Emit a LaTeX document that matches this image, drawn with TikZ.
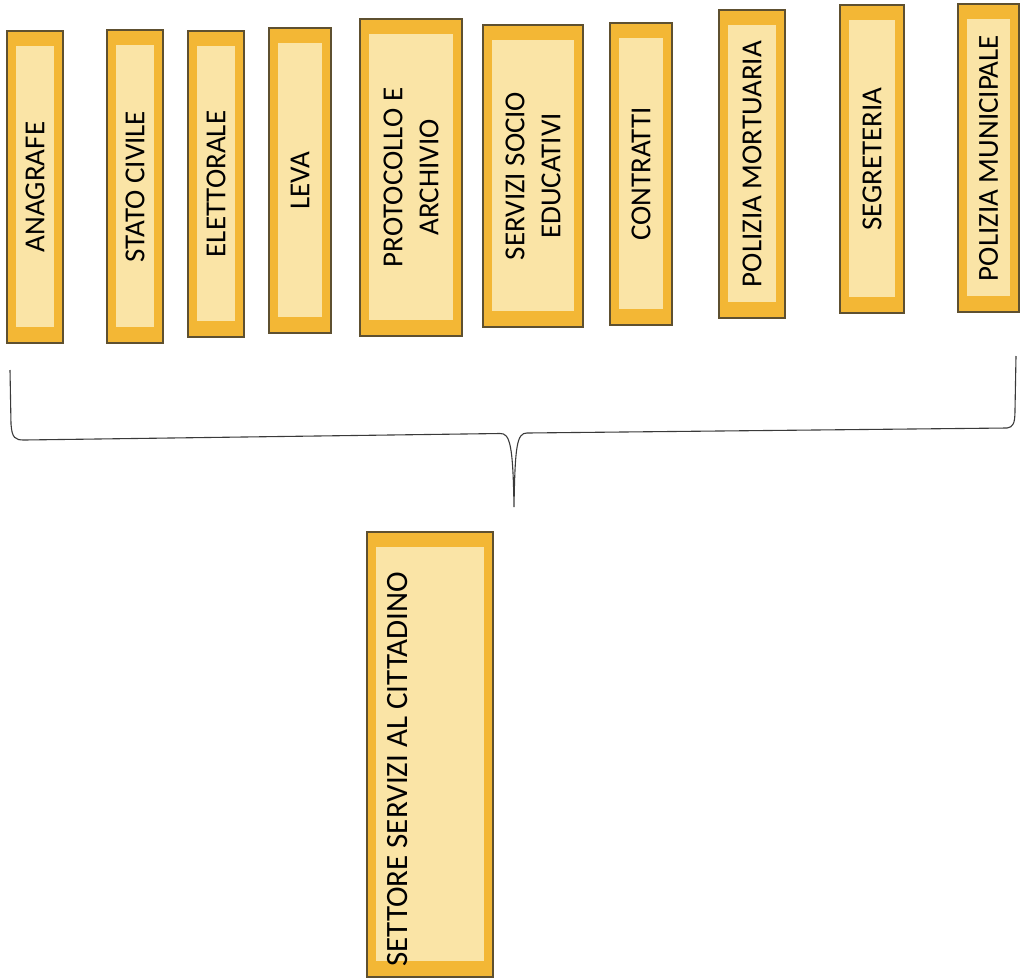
\documentclass[tikz,border=0pt]{standalone}
\usepackage{fontspec}
\setmainfont{Carlito}
\definecolor{outerfill}{HTML}{F3B735}
\definecolor{innerfill}{HTML}{FAE4A6}
\definecolor{boxline}{HTML}{5E5030}
\definecolor{braceline}{HTML}{3A3A3A}
\tikzset{
  outerbox/.style={draw=boxline, line width=1.1pt, fill=outerfill, inner sep=0pt,
    path picture={\fill[innerfill] ([xshift=9pt,yshift=-15pt]path picture bounding box.north west)
      rectangle ([xshift=-9pt,yshift=16pt]path picture bounding box.south east);}},
  boxlabel/.style={rotate=90, inner sep=0pt, align=center, font=\fontsize{29}{36}\selectfont, text=black},
  bracestyle/.style={draw=braceline, line width=1.1pt}
}
\newcommand\dbox[7]{%
  \node[outerbox, minimum width={(#4-#2)*1pt}, minimum height={(#5-#3)*1pt}]
    (#1) at ({(#2+#4)/2},{(#3+#5)/2}) {};
  \node[boxlabel] (#7) at (#1.center) {#6};}
\begin{document}
\begin{tikzpicture}[x=1pt,y=-1pt]
\useasboundingbox (0,0) rectangle (1020,978);
\dbox{b1}{7}{31}{63}{343}{ANAGRAFE}{t1}
\dbox{b2}{107}{30}{163}{343}{STATO CIVILE}{t2}
\dbox{b3}{188}{31}{244}{337}{ELETTORALE}{t3}
\dbox{b4}{269}{28}{331}{333}{LEVA}{t4}
\dbox{b5}{360}{19}{462}{336}{PROTOCOLLO E\\ARCHIVIO}{t5}
\dbox{b6}{483}{25}{583}{327}{SERVIZI SOCIO\\EDUCATIVI}{t6}
\dbox{b7}{610}{23}{672}{325}{CONTRATTI}{t7}
\dbox{b8}{719}{10}{785}{318}{POLIZIA MORTUARIA}{t8}
\dbox{b9}{840}{5}{904}{313}{SEGRETERIA}{t9}
\dbox{b10}{958}{4}{1019}{312}{POLIZIA MUNICIPALE}{t10}
\node[outerbox, minimum width=126pt, minimum height=445pt] (main) at (430,554.5+200) {};
\node[rotate=90, inner sep=0pt, anchor=base west, font=\fontsize{31}{36}\selectfont] (mainlabel) at (407,967) {SETTORE SERVIZI AL CITTADINO};
% brace
\coordinate (bl) at (10,370);
\coordinate (blc) at (24,440);
\coordinate (tipL) at (500,433.5);
\coordinate (tip) at (514,507);
\coordinate (tipR) at (527,433);
\coordinate (brc) at (1007,428);
\coordinate (br) at (1016,356);
\draw[bracestyle] (bl) -- (11,424) .. controls (12,438) and (15,440) .. (blc)
  -- (tipL) .. controls (510,433) and (513,445) .. (tip)
  .. controls (515,445) and (517,433) .. (tipR)
  -- (brc) .. controls (1013,427) and (1015,424) .. (1015,410) -- (br);
\end{tikzpicture}
\end{document}
